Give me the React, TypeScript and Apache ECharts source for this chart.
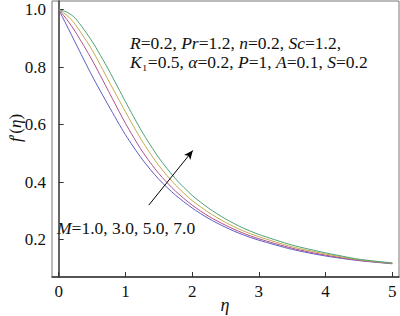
import React, { useEffect, useRef } from "react";
import * as echarts from "echarts";

const eta = [0, 0.125, 0.25, 0.5, 0.75, 1.0, 1.25, 1.5, 1.75, 2.0, 2.25, 2.5, 2.75, 3.0, 3.5, 4.0, 4.5, 5.0];
const fM1 = [1.0, 0.943, 0.885, 0.77, 0.665, 0.565, 0.48, 0.41, 0.355, 0.31, 0.273, 0.243, 0.218, 0.198, 0.166, 0.143, 0.127, 0.116];
const fM3 = [1.0, 0.965, 0.923, 0.825, 0.715, 0.605, 0.508, 0.43, 0.369, 0.32, 0.281, 0.25, 0.224, 0.203, 0.17, 0.146, 0.128, 0.117];
const fM5 = [1.0, 0.98, 0.948, 0.86, 0.752, 0.645, 0.543, 0.458, 0.39, 0.336, 0.294, 0.26, 0.232, 0.21, 0.175, 0.15, 0.13, 0.118];
const fM7 = [1.0, 0.991, 0.97, 0.89, 0.79, 0.68, 0.575, 0.485, 0.412, 0.354, 0.309, 0.272, 0.242, 0.218, 0.181, 0.154, 0.132, 0.119];
const seriesNames = ["M=1.0", "M=3.0", "M=5.0", "M=7.0"];
const seriesColors = ["#5c5cc4", "#b04e8e", "#c4aa48", "#4aa274"];
const xTicks = [0, 1, 2, 3, 4, 5];
const yTicks = [0.2, 0.4, 0.6, 0.8, 1.0];
const arrowFrom = [1.35, 0.32];
const arrowTo = [2.01, 0.51];

const FONT = "Liberation Serif";
const ANN = 17.5;

export default function App() {
  const ref = useRef<HTMLDivElement>(null);
  useEffect(() => {
    document.body.style.margin = "0";
    const chart = echarts.init(ref.current!, null, { renderer: "svg" });
    const all = [fM1, fM3, fM5, fM7];
    const series: any[] = all.map((vals, i) => ({
      name: seriesNames[i],
      type: "line",
      smooth: 0.25,
      showSymbol: false,
      data: eta.map((x, j) => [x, vals[j]]),
      lineStyle: { color: seriesColors[i], width: 1 },
      itemStyle: { color: seriesColors[i] },
      z: 3,
    }));
    series.push({
      type: "line",
      data: [],
      markLine: {
        silent: true,
        symbol: ["none", "arrow"],
        symbolSize: [6, 9],
        label: { show: false },
        lineStyle: { color: "#000", width: 1, type: "solid" },
        data: [[{ coord: arrowFrom }, { coord: arrowTo }]],
      },
    });
    const rich = {
      i: { fontStyle: "italic", fontFamily: FONT, fontSize: ANN, color: "#111", lineHeight: 16 },
    };
    const richY = {
      i: { fontStyle: "italic", fontFamily: FONT, fontSize: 17, color: "#111" },
    };
    chart.setOption({
      animation: false,
      backgroundColor: "#fff",
      grid: { left: 52, right: 1, top: 1, bottom: 39, show: true, borderColor: "#777", borderWidth: 1 },
      xAxis: {
        type: "value",
        min: -0.1,
        max: 5.1,
        splitLine: { show: false },
        axisLine: { show: true, lineStyle: { color: "#333", width: 1.5 } },
        axisTick: { show: true, inside: true, length: 5, customValues: xTicks, lineStyle: { color: "#333" } },
        axisLabel: { customValues: xTicks, fontFamily: FONT, fontSize: 17, color: "#111", margin: 6 },
      },
      yAxis: {
        type: "value",
        min: 0.07,
        max: 1.03,
        splitLine: { show: false },
        axisLine: { show: true, lineStyle: { color: "#333", width: 1.5 } },
        axisTick: { show: true, inside: true, length: 5, customValues: yTicks, lineStyle: { color: "#333" } },
        axisLabel: {
          customValues: yTicks,
          fontFamily: FONT,
          fontSize: 17,
          color: "#111",
          margin: 6,
          formatter: (v: number) => v.toFixed(1),
        },
      },
      series,
      graphic: [
        {
          type: "text",
          x: 130,
          y: 43,
          style: {
            text: "{i|R}=0.2, {i|Pr}=1.2, {i|n}=0.2, {i|Sc}=1.2,",
            fontFamily: FONT,
            fontSize: ANN,
            lineHeight: 16,
            fill: "#111",
            verticalAlign: "middle",
            rich,
          },
        },
        {
          type: "text",
          x: 130,
          y: 62,
          style: {
            text: "{i|K}₁=0.5, {i|α}=0.2, {i|P}=1, {i|A}=0.1, {i|S}=0.2",
            fontFamily: FONT,
            fontSize: ANN,
            lineHeight: 16,
            fill: "#111",
            verticalAlign: "middle",
            rich,
          },
        },
        {
          type: "text",
          x: 57,
          y: 228,
          style: {
            text: "{i|M}=1.0, 3.0, 5.0, 7.0",
            fontFamily: FONT,
            fontSize: ANN,
            fill: "#111",
            verticalAlign: "middle",
            rich,
          },
        },
        {
          type: "text",
          x: 225,
          y: 305,
          style: {
            text: "η",
            fontFamily: FONT,
            fontStyle: "italic",
            fontSize: 18,
            fill: "#111",
            align: "center",
            verticalAlign: "middle",
          },
        },
        {
          type: "text",
          x: 15,
          y: 128,
          rotation: Math.PI / 2,
          style: {
            text: "{i|f}′({i|η})",
            fontFamily: FONT,
            fontSize: 17,
            fill: "#111",
            align: "center",
            verticalAlign: "middle",
            rich: richY,
          },
        },
      ],
    });
    return () => chart.dispose();
  }, []);
  return <div ref={ref} style={{ width: 400, height: 316 }} />;
}
